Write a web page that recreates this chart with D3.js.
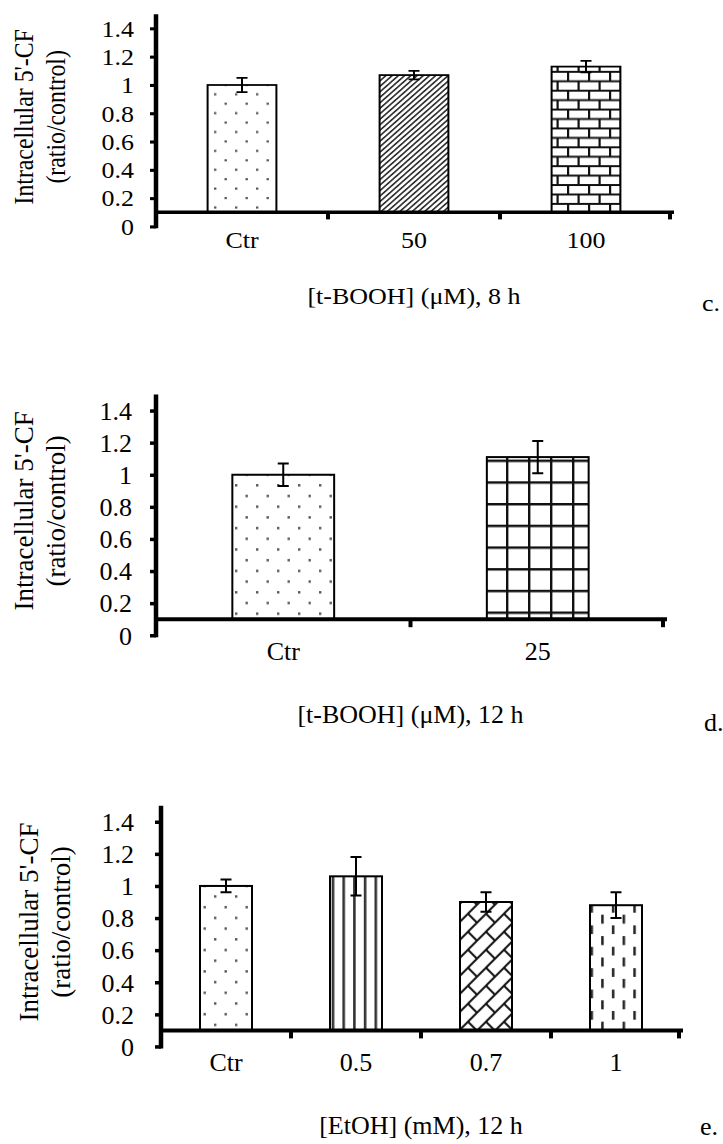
<!DOCTYPE html>
<html>
<head>
<meta charset="utf-8">
<script src="https://cdn.jsdelivr.net/npm/d3@7"></script>
<style>
  html, body { margin: 0; padding: 0; background: #fff; }
  svg { display: block; }
</style>
</head>
<body>
<svg id="fig" width="723" height="1144"></svg>
<script>
// Shared y axis
const yTickValues = [0, 0.2, 0.4, 0.6, 0.8, 1, 1.2, 1.4];
const yTickLabels = ["0", "0.2", "0.4", "0.6", "0.8", "1", "1.2", "1.4"];
const yTitleLines = ["Intracellular 5'-CF", "(ratio/control)"];

// c. t-BOOH, 8 h
const tbooh8Categories = ["Ctr", "50", "100"];
const tbooh8Values = [1.00, 1.07, 1.13];
const tbooh8Errors = [0.05, 0.03, 0.04];

// d. t-BOOH, 12 h
const tbooh12Categories = ["Ctr", "25"];
const tbooh12Values = [1.00, 1.11];
const tbooh12Errors = [0.07, 0.10];

// e. EtOH, 12 h
const etohCategories = ["Ctr", "0.5", "0.7", "1"];
const etohValues = [1.00, 1.06, 0.90, 0.88];
const etohErrors = [0.04, 0.12, 0.06, 0.08];

const FONT = "'Liberation Serif', 'Times New Roman', serif";
const svg = d3.select("#fig");

// ---- fill patterns ----
const defs = svg.append("defs");
function pattern(id, w, h, transform) {
  const p = defs.append("pattern").attr("id", id)
    .attr("patternUnits", "userSpaceOnUse").attr("width", w).attr("height", h);
  if (transform) p.attr("patternTransform", transform);
  p.append("rect").attr("width", w).attr("height", h).attr("fill", "#fff");
  return p;
}
// sparse dots
let p = pattern("p-dots", 21, 21.4);
p.append("rect").attr("x", 4).attr("y", 4).attr("width", 2.4).attr("height", 2.4).attr("fill", "#555");
p.append("rect").attr("x", 14.5).attr("y", 14.7).attr("width", 2.4).attr("height", 2.4).attr("fill", "#555");
// dense upward diagonal
p = pattern("p-diag", 4.4, 4.4, "rotate(45)");
p.append("rect").attr("width", 1.8).attr("height", 4.4).attr("fill", "#333");
// horizontal brick
p = pattern("p-brick", 21, 21.4);
p.append("path").attr("d", "M0,1.1H21M0,11.8H21M1.1,1.1V11.8M11.6,11.8V21.4")
  .attr("stroke", "#111").attr("stroke-width", 2.2).attr("fill", "none");
// grid
p = pattern("p-grid", 22, 21.7);
p.append("path").attr("d", "M0,1.2H22M1.2,0V21.7")
  .attr("stroke", "#111").attr("stroke-width", 2.4).attr("fill", "none");
// vertical lines
p = pattern("p-vlines", 10.7, 10);
p.append("rect").attr("width", 2.6).attr("height", 10).attr("fill", "#333");
// diagonal brick
p = pattern("p-dbrick", 18, 18);
p.append("path").attr("d", "M-1,19L19,-1M-2,2L2,-2M16,20L20,16M0,0L9,9")
  .attr("stroke", "#111").attr("stroke-width", 2).attr("fill", "none");
// dashed vertical
p = pattern("p-dashv", 21.4, 21.4);
p.append("rect").attr("x", 2).attr("y", 2).attr("width", 2.5).attr("height", 9).attr("fill", "#222");
p.append("rect").attr("x", 12.7).attr("y", 12.7).attr("width", 2.5).attr("height", 9).attr("fill", "#222");

// ---- panels ----
const panels = [
  { categories: tbooh8Categories, values: tbooh8Values, errors: tbooh8Errors,
    fills: ["p-dots", "p-diag", "p-brick"], xTitle: "[t-BOOH] (\u03bcM), 8 h", letter: "c.",
    top: 14.25, sy: 0.8816, x0: 156, x1: 672, labelGap: 16, letterX: 702, letterDy: 112 },
  { categories: tbooh12Categories, values: tbooh12Values, errors: tbooh12Errors,
    fills: ["p-dots", "p-grid"], xTitle: "[t-BOOH] (\u03bcM), 12 h", letter: "d.",
    top: 394.5, sy: 1, x0: 156, x1: 665, labelGap: 18, letterX: 704, letterDy: 112 },
  { categories: etohCategories, values: etohValues, errors: etohErrors,
    fills: ["p-dots", "p-vlines", "p-dbrick", "p-dashv"], xTitle: "[EtOH] (mM), 12 h", letter: "e.",
    top: 805.7, sy: 1, x0: 161, x1: 681, labelGap: 21, letterX: 700, letterDy: 105 }
];

const PLOT_H = 240.75;   // height of the value range 0..1.5
const AXIS_CROSS = 0.1;  // horizontal axis crosses the value axis here

panels.forEach(cfg => {
  const g = svg.append("g")
    .attr("transform", `translate(0,${cfg.top}) scale(1,${cfg.sy})`);

  const y = d3.scaleLinear().domain([0, 1.5]).range([PLOT_H, 0]);
  const x = d3.scaleBand().domain(cfg.categories).range([cfg.x0, cfg.x1])
    .paddingInner(0.6).paddingOuter(0.3);
  const axisY = y(AXIS_CROSS);

  // bars
  const data = cfg.categories.map((c, i) => ({ c, v: cfg.values[i], e: cfg.errors[i], fill: cfg.fills[i] }));
  const bars = g.append("g");
  bars.selectAll("rect.bar").data(data).join("rect")
    .attr("class", "bar")
    .attr("x", d => x(d.c)).attr("width", x.bandwidth())
    .attr("y", d => y(d.v)).attr("height", d => axisY - y(d.v))
    .attr("fill", d => `url(#${d.fill})`)
    .attr("stroke", "#000").attr("stroke-width", 2);

  // error bars
  const capW = 11;
  const eb = g.append("g").attr("stroke", "#000").attr("stroke-width", 2).attr("fill", "none");
  eb.selectAll("path").data(data).join("path")
    .attr("d", d => {
      const cx = x(d.c) + x.bandwidth() / 2;
      const hi = y(d.v + d.e), lo = y(d.v - d.e);
      return `M${cx},${hi}V${lo}M${cx - capW / 2},${hi}H${cx + capW / 2}M${cx - capW / 2},${lo}H${cx + capW / 2}`;
    });

  // value axis
  const yAxis = d3.axisLeft(y).tickValues(yTickValues)
    .tickFormat((d, i) => yTickLabels[i])
    .tickSize(6).tickSizeOuter(0).tickPadding(cfg.labelGap);
  const ya = g.append("g").attr("transform", `translate(${cfg.x0},0)`).call(yAxis);
  ya.select(".domain").attr("stroke", "#000").attr("stroke-width", 4.5)
    .attr("d", `M0,${y(0) + 2}V${y(1.5)}`);
  ya.selectAll(".tick line").attr("stroke", "#000").attr("stroke-width", 3.5);
  ya.selectAll(".tick text").attr("font-family", FONT).attr("font-size", 26)
    .attr("fill", "#000").attr("dy", "0.34em");
  ya.attr("font-family", null).attr("font-size", null);

  // category axis
  const xa = g.append("g").attr("transform", `translate(0,${axisY})`)
    .call(d3.axisBottom(x).tickSize(0).tickPadding(22.5));
  xa.select(".domain").remove();
  xa.selectAll(".tick text").attr("font-family", FONT).attr("font-size", 26).attr("fill", "#000");
  xa.attr("font-family", null).attr("font-size", null);
  g.append("line").attr("x1", cfg.x0 - 2).attr("x2", cfg.x1 + 2)
    .attr("y1", axisY).attr("y2", axisY).attr("stroke", "#000").attr("stroke-width", 4);
  const step = x.step();
  const bounds = d3.range(1, cfg.categories.length + 1).map(k => cfg.x0 + k * step);
  g.append("g").selectAll("line").data(bounds).join("line")
    .attr("x1", d => d - (d >= cfg.x1 - 1 ? 2 : 0)).attr("x2", d => d - (d >= cfg.x1 - 1 ? 2 : 0))
    .attr("y1", axisY).attr("y2", axisY + 8)
    .attr("stroke", "#000").attr("stroke-width", 4);

  // value axis title
  const tcy = PLOT_H / 2 - 4;
  yTitleLines.forEach((line, i) => {
    const tx = cfg.x0 - 132 + i * 32;
    g.append("text")
      .attr("transform", `translate(${tx},${tcy}) rotate(-90)`)
      .attr("text-anchor", "middle").attr("dy", "0.34em")
      .attr("font-family", FONT).attr("font-size", 27).attr("fill", "#000")
      .text(line);
  });

  // category axis title and panel letter
  g.append("text")
    .attr("x", (cfg.x0 + cfg.x1) / 2).attr("y", axisY + 104)
    .attr("text-anchor", "middle")
    .attr("font-family", FONT).attr("font-size", 26).attr("fill", "#000")
    .text(cfg.xTitle);
  g.append("text")
    .attr("x", cfg.letterX).attr("y", axisY + cfg.letterDy)
    .attr("font-family", FONT).attr("font-size", 26).attr("fill", "#000")
    .text(cfg.letter);
});
</script>
</body>
</html>
